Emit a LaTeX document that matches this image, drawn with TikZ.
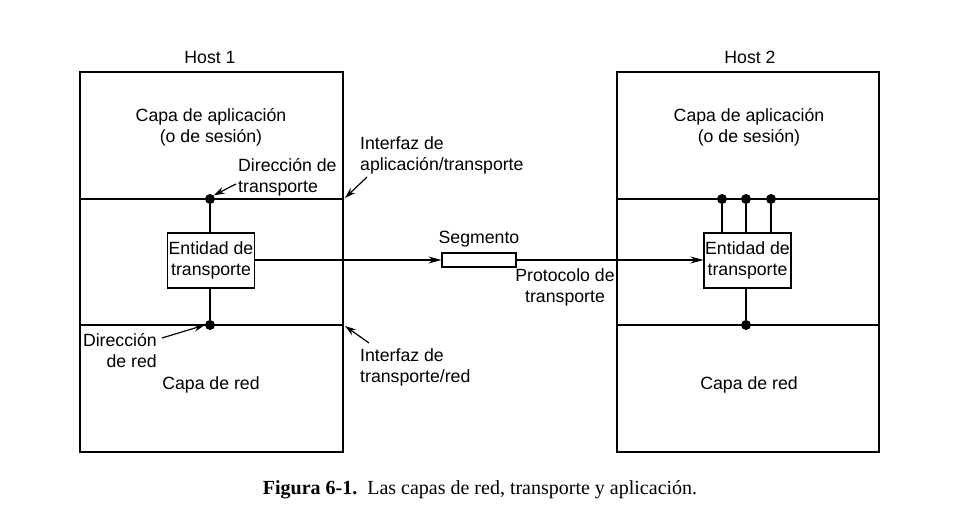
\documentclass[tikz,border=0pt]{standalone}
\usepackage{fontspec}
\setmainfont{Liberation Serif}
\newfontfamily\diagfont{Liberation Sans}
\usetikzlibrary{arrows.meta}
\begin{document}
\begin{tikzpicture}[x=1pt,y=-1pt,
  lbl/.style={font=\diagfont\fontsize{17.7}{21}\selectfont, inner sep=0pt},
  hostbox/.style={draw, line width=1.1pt, inner sep=0pt},
  entbox/.style={draw, line width=1.1pt, inner sep=0pt, align=center,
     font=\diagfont\fontsize{17.7}{21}\selectfont},
  segbox/.style={draw, line width=1.1pt, inner sep=0pt, minimum width=74pt, minimum height=14pt},
  layer/.style={line width=1.1pt},
  wire/.style={line width=1.1pt},
  pointer/.style={line width=1.2pt, -{Stealth[length=11pt,width=7pt]}},
  flow/.style={line width=1.1pt, -{Stealth[length=13pt,width=7pt]}},
  addr/.style={circle, fill, inner sep=0pt, minimum size=10pt}
]
\useasboundingbox (0,0) rectangle (968,520);

% host frames
\node[hostbox, minimum width=263pt, minimum height=380pt] (h1) at (211.5,262) {};
\node[hostbox, minimum width=262pt, minimum height=380pt] (h2) at (748,262) {};

% layer boundaries
\coordinate (h1a) at (80,199);  \coordinate (h1b) at (343,199);
\coordinate (h1c) at (80,325);  \coordinate (h1d) at (343,325);
\coordinate (h2a) at (617,199); \coordinate (h2b) at (879,199);
\coordinate (h2c) at (617,325); \coordinate (h2d) at (879,325);
\draw[layer] (h1a) -- (h1b);
\draw[layer] (h1c) -- (h1d);
\draw[layer] (h2a) -- (h2b);
\draw[layer] (h2c) -- (h2d);

% titles
\node[lbl] (t1) at (210,57) {Host 1};
\node[lbl] (t2) at (750,57) {Host 2};

\node[lbl, align=center] (app1) at (211,127) {Capa de aplicación\\(o de sesión)};
\node[lbl, align=center] (app2) at (749,127) {Capa de aplicación\\(o de sesión)};
\node[lbl] (net1) at (211,385) {Capa de red};
\node[lbl] (net2) at (749,385) {Capa de red};

% transport entities
\node[entbox, minimum width=87pt, minimum height=55pt] (e1) at (211,260.5) {Entidad de\\transporte};
\node[entbox, minimum width=87pt, minimum height=55pt] (e2) at (747.5,260.5) {Entidad de\\transporte};

% addresses host 1
\node[addr] (d1) at (210,199) {};
\node[addr] (d2) at (210,325) {};
\draw[wire] (d1) -- (e1.north -| d1);
\draw[wire] (e1.south -| d2) -- (d2);

% addresses host 2
\node[addr] (p1) at (722,199) {};
\node[addr] (p2) at (746,199) {};
\node[addr] (p3) at (771,199) {};
\node[addr] (p4) at (746,325) {};
\draw[wire] (p1) -- (e2.north -| p1);
\draw[wire] (p2) -- (e2.north -| p2);
\draw[wire] (p3) -- (e2.north -| p3);
\draw[wire] (e2.south -| p4) -- (p4);

% segment
\node[segbox] (seg) at (479,260) {};
\node[lbl] (seglbl) at (479,239) {Segmento};
\draw[flow] (e1.east |- seg.west) -- (seg.west);
\draw[flow] (seg.east) -- (e2.west |- seg.east);
\node[lbl, align=center] (proto) at (565,287.5) {Protocolo de\\transporte};

% annotations
\node[lbl, align=left, anchor=west] (dt) at (238,177.5) {Dirección de\\transporte};
\coordinate (dtp) at (236,184);
\draw[pointer] (dtp) -- (d1.north east);

\node[lbl, align=right, anchor=east] (dr) at (157,351) {Dirección\\de red};
\coordinate (drp) at (162,338);
\draw[pointer] (drp) -- (d2.west);

\node[lbl, align=left, anchor=west] (ia) at (360,155.5) {Interfaz de\\aplicación/transporte};
\coordinate (iap) at (367,177);
\coordinate (iat) at (345,198);
\draw[pointer] (iap) -- (iat);

\node[lbl, align=left, anchor=west] (it) at (360,367) {Interfaz de\\transporte/red};
\coordinate (itp) at (369,343);
\coordinate (itt) at (345,326);
\draw[pointer] (itp) -- (itt);

% caption
\node[inner sep=0pt, font=\fontsize{20}{24}\selectfont] (cap) at (480,490)
  {\textbf{Figura 6-1.}\ \ Las capas de red, transporte y aplicación.};
\end{tikzpicture}
\end{document}
